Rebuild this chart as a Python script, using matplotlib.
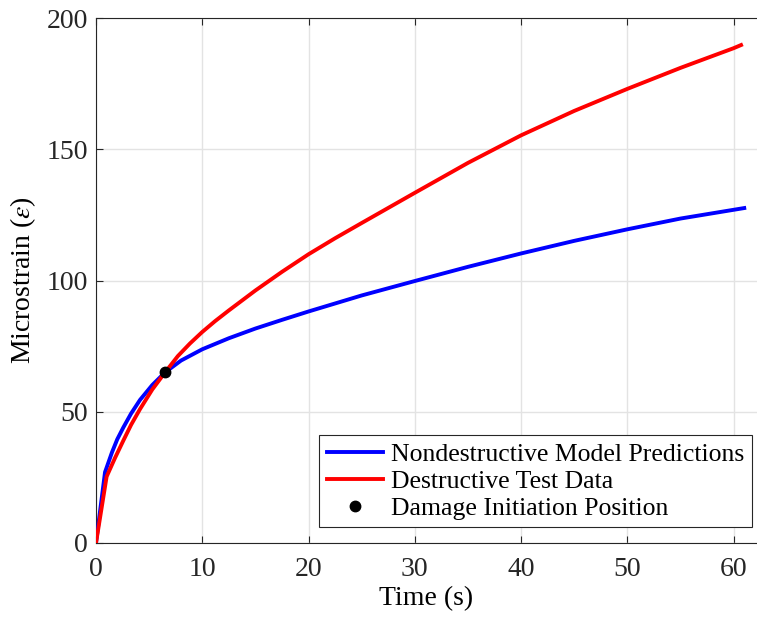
import matplotlib.pyplot as plt
from matplotlib import rcParams

# values
t_model = [0, 0.85, 1.5, 2.0, 2.57, 3.3, 4.14, 5.3, 6.5, 8.0, 10, 12.5, 15, 17.5, 20,
           25, 30, 35, 40, 45, 50, 55, 61]
strain_model = [0, 27, 34.5, 39.5, 44, 49.3, 54.5, 60.2, 65, 69.5, 73.8, 78.0, 81.7, 85.0,
                88.2, 94.3, 99.8, 105.2, 110.3, 115.1, 119.5, 123.6, 127.6]

t_test = [0, 1.0, 1.8, 2.57, 3.3, 4.14, 5.3, 6.5, 7.7, 8.84, 10, 11.2, 12.5, 15, 17.5,
          20, 22.5, 25, 30, 35, 40, 45, 50, 55, 60, 60.7]
strain_test = [0, 25.3, 32.5, 39, 45, 51, 58.5, 65, 71.2, 76.0, 80.4, 84.5, 88.6, 96.2,
               103.3, 110.0, 116.1, 121.9, 133.4, 144.8, 155.3, 164.6, 173.0, 181.0,
               188.5, 189.7]

damage_t = [6.5]
damage_strain = [65]

config = {
    "font.family": ['Liberation Serif', 'DejaVu Serif'],
    "mathtext.fontset": 'stix',
    "font.size": 20,
    "axes.unicode_minus": False,
}
rcParams.update(config)

fig = plt.figure(figsize=(7.57, 6.23), dpi=100)
ax = fig.add_axes([96 / 757, 80 / 623, 661 / 757, 525 / 623])

ax.plot(t_model, strain_model, '-', color='#0000ff', lw=2.8,
        label='Nondestructive Model Predictions', zorder=3)
ax.plot(t_test, strain_test, '-', color='#ff0000', lw=2.8,
        label='Destructive Test Data', zorder=4)
ax.plot(damage_t, damage_strain, 'o', color='black', ms=7.5,
        label='Damage Initiation Position', zorder=5)

ax.set_xlim(0, 62.2)
ax.set_ylim(0, 200)
ax.set_xticks([0, 10, 20, 30, 40, 50, 60])
ax.set_yticks([0, 50, 100, 150, 200])
ax.set_xlabel('Time (s)', labelpad=3)
ax.set_ylabel(r'Microstrain ($\epsilon$)', labelpad=6)

ax.grid(color='#e3e3e3', linewidth=1.0)
ax.set_axisbelow(True)
ax.tick_params(direction='in', length=5, width=0.8, color='#262626',
               top=True, right=False, pad=6, labelcolor='#262626')
ax.tick_params(axis='x', pad=10)
for side in ['left', 'bottom', 'top']:
    ax.spines[side].set_color('#262626')
    ax.spines[side].set_linewidth(0.8)
ax.spines['right'].set_visible(False)

leg = ax.legend(loc='lower right', bbox_to_anchor=(0.9925, 0.03), fontsize=18.5,
                fancybox=False, framealpha=1, edgecolor='#262626',
                handlelength=2.2, handletextpad=0.3, borderpad=0.3,
                labelspacing=0.15, borderaxespad=0)
leg.get_frame().set_linewidth(0.8)

plt.savefig('out.png', dpi=100)
